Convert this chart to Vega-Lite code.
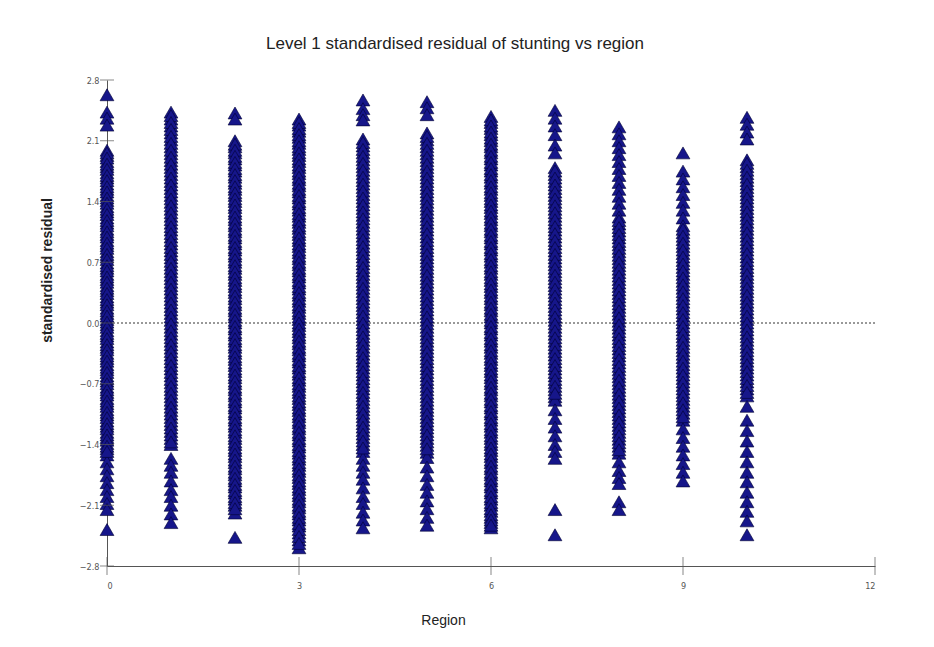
{
  "$schema": "https://vega.github.io/schema/vega-lite/v6.json",
  "width": 768,
  "height": 486,
  "autosize": {"type": "none"},
  "padding": {"left": 107, "top": 80, "right": 59, "bottom": 81},
  "background": "white",
  "title": {
    "text": "Level 1 standardised residual of stunting vs  region",
    "anchor": "middle",
    "frame": "group",
    "dx": -36,
    "offset": 10,
    "baseline": "alphabetic",
    "font": "Liberation Sans",
    "fontSize": 17,
    "fontWeight": "normal",
    "color": "#222222"
  },
  "config": {
    "view": {"stroke": null},
    "font": "Liberation Sans",
    "axis": {
      "ticks": false,
      "grid": false,
      "domainColor": "#555555",
      "labelFont": "'Liberation Sans Narrow', 'DejaVu Sans Condensed', 'Liberation Sans', sans-serif",
      "labelFontSize": 9,
      "labelColor": "#555555",
      "titleFont": "Liberation Sans",
      "titleFontSize": 14,
      "titleFontWeight": "normal",
      "titleColor": "#222222"
    }
  },
  "datasets": {
    "zero": [{"z": 0}],
    "yticks": [{"t": -2.8}, {"t": -2.1}, {"t": -1.4}, {"t": -0.7}, {"t": 0}, {"t": 0.7}, {"t": 1.4}, {"t": 2.1}, {"t": 2.8}],
    "xticks": [{"t": 0}, {"t": 3}, {"t": 6}, {"t": 9}, {"t": 12}],
    "points": [
      {"r":0,"v":2.63},{"r":0,"v":2.43},{"r":0,"v":2.36},{"r":0,"v":2.28},
      {"r":0,"v":1.99},{"r":0,"v":1.93},{"r":0,"v":1.86},{"r":0,"v":1.80},{"r":0,"v":1.73},{"r":0,"v":1.67},{"r":0,"v":1.60},{"r":0,"v":1.54},{"r":0,"v":1.47},{"r":0,"v":1.41},{"r":0,"v":1.34},{"r":0,"v":1.28},{"r":0,"v":1.21},{"r":0,"v":1.15},{"r":0,"v":1.08},{"r":0,"v":1.02},{"r":0,"v":0.95},{"r":0,"v":0.89},{"r":0,"v":0.82},{"r":0,"v":0.76},{"r":0,"v":0.69},{"r":0,"v":0.63},{"r":0,"v":0.56},{"r":0,"v":0.50},{"r":0,"v":0.43},{"r":0,"v":0.37},{"r":0,"v":0.30},{"r":0,"v":0.24},{"r":0,"v":0.17},{"r":0,"v":0.11},{"r":0,"v":0.04},{"r":0,"v":-0.02},{"r":0,"v":-0.09},{"r":0,"v":-0.15},{"r":0,"v":-0.22},{"r":0,"v":-0.28},{"r":0,"v":-0.35},{"r":0,"v":-0.41},{"r":0,"v":-0.48},{"r":0,"v":-0.54},{"r":0,"v":-0.61},{"r":0,"v":-0.67},{"r":0,"v":-0.74},{"r":0,"v":-0.80},{"r":0,"v":-0.87},{"r":0,"v":-0.93},{"r":0,"v":-1.00},{"r":0,"v":-1.06},{"r":0,"v":-1.13},{"r":0,"v":-1.19},{"r":0,"v":-1.26},{"r":0,"v":-1.32},{"r":0,"v":-1.39},{"r":0,"v":-1.45},{"r":0,"v":-1.52},{"r":0,"v":-1.60},{"r":0,"v":-1.68},{"r":0,"v":-1.76},{"r":0,"v":-1.84},{"r":0,"v":-1.92},{"r":0,"v":-2.00},{"r":0,"v":-2.08},{"r":0,"v":-2.15},{"r":0,"v":-2.38},
      {"r":0,"v":1.96},{"r":0,"v":1.90},{"r":0,"v":1.83},{"r":0,"v":1.77},{"r":0,"v":1.70},{"r":0,"v":1.64},{"r":0,"v":1.57},{"r":0,"v":1.51},{"r":0,"v":1.44},{"r":0,"v":1.38},{"r":0,"v":1.31},{"r":0,"v":1.25},{"r":0,"v":1.18},{"r":0,"v":1.12},{"r":0,"v":1.05},{"r":0,"v":0.99},{"r":0,"v":0.92},{"r":0,"v":0.86},{"r":0,"v":0.79},{"r":0,"v":0.73},{"r":0,"v":0.66},{"r":0,"v":0.60},{"r":0,"v":0.53},{"r":0,"v":0.47},{"r":0,"v":0.40},{"r":0,"v":0.34},{"r":0,"v":0.27},{"r":0,"v":0.21},{"r":0,"v":0.14},{"r":0,"v":0.08},{"r":0,"v":0.01},{"r":0,"v":-0.05},{"r":0,"v":-0.12},{"r":0,"v":-0.18},{"r":0,"v":-0.25},{"r":0,"v":-0.31},{"r":0,"v":-0.38},{"r":0,"v":-0.44},{"r":0,"v":-0.51},{"r":0,"v":-0.57},{"r":0,"v":-0.64},{"r":0,"v":-0.70},{"r":0,"v":-0.77},{"r":0,"v":-0.83},{"r":0,"v":-0.90},{"r":0,"v":-0.96},{"r":0,"v":-1.03},{"r":0,"v":-1.09},{"r":0,"v":-1.16},{"r":0,"v":-1.22},{"r":0,"v":-1.29},{"r":0,"v":-1.35},{"r":0,"v":-1.42},{"r":0,"v":-1.48},
      {"r":1,"v":2.43},{"r":1,"v":2.35},{"r":1,"v":2.27},{"r":1,"v":2.19},{"r":1,"v":2.11},{"r":1,"v":2.03},{"r":1,"v":1.95},{"r":1,"v":1.87},{"r":1,"v":1.79},{"r":1,"v":1.71},{"r":1,"v":1.63},{"r":1,"v":1.55},{"r":1,"v":1.47},{"r":1,"v":1.39},{"r":1,"v":1.31},{"r":1,"v":1.23},{"r":1,"v":1.15},{"r":1,"v":1.07},{"r":1,"v":0.99},{"r":1,"v":0.91},{"r":1,"v":0.83},{"r":1,"v":0.75},{"r":1,"v":0.67},{"r":1,"v":0.59},{"r":1,"v":0.51},{"r":1,"v":0.43},{"r":1,"v":0.35},{"r":1,"v":0.27},{"r":1,"v":0.19},{"r":1,"v":0.11},{"r":1,"v":0.03},{"r":1,"v":-0.05},{"r":1,"v":-0.13},{"r":1,"v":-0.21},{"r":1,"v":-0.29},{"r":1,"v":-0.37},{"r":1,"v":-0.45},{"r":1,"v":-0.53},{"r":1,"v":-0.61},{"r":1,"v":-0.69},{"r":1,"v":-0.77},{"r":1,"v":-0.85},{"r":1,"v":-0.93},{"r":1,"v":-1.01},{"r":1,"v":-1.09},{"r":1,"v":-1.17},{"r":1,"v":-1.25},{"r":1,"v":-1.33},{"r":1,"v":-1.40},{"r":1,"v":-1.56},{"r":1,"v":-1.64},{"r":1,"v":-1.72},{"r":1,"v":-1.82},{"r":1,"v":-1.92},{"r":1,"v":-2.00},{"r":1,"v":-2.10},{"r":1,"v":-2.20},{"r":1,"v":-2.30},
      {"r":1,"v":2.39},{"r":1,"v":2.31},{"r":1,"v":2.23},{"r":1,"v":2.15},{"r":1,"v":2.07},{"r":1,"v":1.99},{"r":1,"v":1.91},{"r":1,"v":1.83},{"r":1,"v":1.75},{"r":1,"v":1.67},{"r":1,"v":1.59},{"r":1,"v":1.51},{"r":1,"v":1.43},{"r":1,"v":1.35},{"r":1,"v":1.27},{"r":1,"v":1.19},{"r":1,"v":1.11},{"r":1,"v":1.03},{"r":1,"v":0.95},{"r":1,"v":0.87},{"r":1,"v":0.79},{"r":1,"v":0.71},{"r":1,"v":0.63},{"r":1,"v":0.55},{"r":1,"v":0.47},{"r":1,"v":0.39},{"r":1,"v":0.31},{"r":1,"v":0.23},{"r":1,"v":0.15},{"r":1,"v":0.07},{"r":1,"v":-0.01},{"r":1,"v":-0.09},{"r":1,"v":-0.17},{"r":1,"v":-0.25},{"r":1,"v":-0.33},{"r":1,"v":-0.41},{"r":1,"v":-0.49},{"r":1,"v":-0.57},{"r":1,"v":-0.65},{"r":1,"v":-0.73},{"r":1,"v":-0.81},{"r":1,"v":-0.89},{"r":1,"v":-0.97},{"r":1,"v":-1.05},{"r":1,"v":-1.13},{"r":1,"v":-1.21},{"r":1,"v":-1.29},{"r":1,"v":-1.37},
      {"r":2,"v":2.42},{"r":2,"v":2.35},
      {"r":2,"v":2.10},{"r":2,"v":2.03},{"r":2,"v":1.96},{"r":2,"v":1.89},{"r":2,"v":1.82},{"r":2,"v":1.75},{"r":2,"v":1.68},{"r":2,"v":1.61},{"r":2,"v":1.54},{"r":2,"v":1.47},{"r":2,"v":1.40},{"r":2,"v":1.33},{"r":2,"v":1.26},{"r":2,"v":1.19},{"r":2,"v":1.12},{"r":2,"v":1.05},{"r":2,"v":0.98},{"r":2,"v":0.91},{"r":2,"v":0.84},{"r":2,"v":0.77},{"r":2,"v":0.70},{"r":2,"v":0.63},{"r":2,"v":0.56},{"r":2,"v":0.49},{"r":2,"v":0.42},{"r":2,"v":0.35},{"r":2,"v":0.28},{"r":2,"v":0.21},{"r":2,"v":0.14},{"r":2,"v":0.07},{"r":2,"v":0.00},{"r":2,"v":-0.07},{"r":2,"v":-0.14},{"r":2,"v":-0.21},{"r":2,"v":-0.28},{"r":2,"v":-0.35},{"r":2,"v":-0.42},{"r":2,"v":-0.49},{"r":2,"v":-0.56},{"r":2,"v":-0.63},{"r":2,"v":-0.70},{"r":2,"v":-0.77},{"r":2,"v":-0.84},{"r":2,"v":-0.91},{"r":2,"v":-0.98},{"r":2,"v":-1.05},{"r":2,"v":-1.12},{"r":2,"v":-1.19},{"r":2,"v":-1.26},{"r":2,"v":-1.33},{"r":2,"v":-1.40},{"r":2,"v":-1.47},{"r":2,"v":-1.54},{"r":2,"v":-1.61},{"r":2,"v":-1.68},{"r":2,"v":-1.75},{"r":2,"v":-1.82},{"r":2,"v":-1.89},{"r":2,"v":-1.96},{"r":2,"v":-2.03},{"r":2,"v":-2.10},{"r":2,"v":-2.19},{"r":2,"v":-2.47},
      {"r":2,"v":2.06},{"r":2,"v":1.99},{"r":2,"v":1.92},{"r":2,"v":1.85},{"r":2,"v":1.78},{"r":2,"v":1.71},{"r":2,"v":1.64},{"r":2,"v":1.57},{"r":2,"v":1.50},{"r":2,"v":1.43},{"r":2,"v":1.36},{"r":2,"v":1.29},{"r":2,"v":1.22},{"r":2,"v":1.15},{"r":2,"v":1.08},{"r":2,"v":1.01},{"r":2,"v":0.94},{"r":2,"v":0.87},{"r":2,"v":0.80},{"r":2,"v":0.73},{"r":2,"v":0.66},{"r":2,"v":0.59},{"r":2,"v":0.52},{"r":2,"v":0.45},{"r":2,"v":0.38},{"r":2,"v":0.31},{"r":2,"v":0.24},{"r":2,"v":0.17},{"r":2,"v":0.10},{"r":2,"v":0.03},{"r":2,"v":-0.04},{"r":2,"v":-0.11},{"r":2,"v":-0.18},{"r":2,"v":-0.25},{"r":2,"v":-0.32},{"r":2,"v":-0.39},{"r":2,"v":-0.46},{"r":2,"v":-0.53},{"r":2,"v":-0.60},{"r":2,"v":-0.67},{"r":2,"v":-0.74},{"r":2,"v":-0.81},{"r":2,"v":-0.88},{"r":2,"v":-0.95},{"r":2,"v":-1.02},{"r":2,"v":-1.09},{"r":2,"v":-1.16},{"r":2,"v":-1.23},{"r":2,"v":-1.30},{"r":2,"v":-1.37},{"r":2,"v":-1.44},{"r":2,"v":-1.51},{"r":2,"v":-1.58},{"r":2,"v":-1.65},{"r":2,"v":-1.72},{"r":2,"v":-1.79},{"r":2,"v":-1.86},{"r":2,"v":-1.93},{"r":2,"v":-2.00},{"r":2,"v":-2.07},{"r":2,"v":-2.14},
      {"r":3,"v":2.35},{"r":3,"v":2.28},{"r":3,"v":2.21},{"r":3,"v":2.14},{"r":3,"v":2.07},{"r":3,"v":2.00},{"r":3,"v":1.93},{"r":3,"v":1.86},{"r":3,"v":1.79},{"r":3,"v":1.72},{"r":3,"v":1.65},{"r":3,"v":1.58},{"r":3,"v":1.51},{"r":3,"v":1.44},{"r":3,"v":1.37},{"r":3,"v":1.30},{"r":3,"v":1.23},{"r":3,"v":1.16},{"r":3,"v":1.09},{"r":3,"v":1.02},{"r":3,"v":0.95},{"r":3,"v":0.88},{"r":3,"v":0.81},{"r":3,"v":0.74},{"r":3,"v":0.67},{"r":3,"v":0.60},{"r":3,"v":0.53},{"r":3,"v":0.46},{"r":3,"v":0.39},{"r":3,"v":0.32},{"r":3,"v":0.25},{"r":3,"v":0.18},{"r":3,"v":0.11},{"r":3,"v":0.04},{"r":3,"v":-0.03},{"r":3,"v":-0.10},{"r":3,"v":-0.17},{"r":3,"v":-0.24},{"r":3,"v":-0.31},{"r":3,"v":-0.38},{"r":3,"v":-0.45},{"r":3,"v":-0.52},{"r":3,"v":-0.59},{"r":3,"v":-0.66},{"r":3,"v":-0.73},{"r":3,"v":-0.80},{"r":3,"v":-0.87},{"r":3,"v":-0.94},{"r":3,"v":-1.01},{"r":3,"v":-1.08},{"r":3,"v":-1.15},{"r":3,"v":-1.22},{"r":3,"v":-1.29},{"r":3,"v":-1.36},{"r":3,"v":-1.43},{"r":3,"v":-1.50},{"r":3,"v":-1.57},{"r":3,"v":-1.64},{"r":3,"v":-1.71},{"r":3,"v":-1.78},{"r":3,"v":-1.85},{"r":3,"v":-1.92},{"r":3,"v":-1.99},{"r":3,"v":-2.06},{"r":3,"v":-2.13},{"r":3,"v":-2.20},{"r":3,"v":-2.27},{"r":3,"v":-2.34},{"r":3,"v":-2.42},{"r":3,"v":-2.50},{"r":3,"v":-2.59},
      {"r":3,"v":2.31},{"r":3,"v":2.24},{"r":3,"v":2.17},{"r":3,"v":2.10},{"r":3,"v":2.03},{"r":3,"v":1.96},{"r":3,"v":1.89},{"r":3,"v":1.82},{"r":3,"v":1.75},{"r":3,"v":1.68},{"r":3,"v":1.61},{"r":3,"v":1.54},{"r":3,"v":1.47},{"r":3,"v":1.40},{"r":3,"v":1.33},{"r":3,"v":1.26},{"r":3,"v":1.19},{"r":3,"v":1.12},{"r":3,"v":1.05},{"r":3,"v":0.98},{"r":3,"v":0.91},{"r":3,"v":0.84},{"r":3,"v":0.77},{"r":3,"v":0.70},{"r":3,"v":0.63},{"r":3,"v":0.56},{"r":3,"v":0.49},{"r":3,"v":0.42},{"r":3,"v":0.35},{"r":3,"v":0.28},{"r":3,"v":0.21},{"r":3,"v":0.14},{"r":3,"v":0.07},{"r":3,"v":0.00},{"r":3,"v":-0.07},{"r":3,"v":-0.14},{"r":3,"v":-0.21},{"r":3,"v":-0.28},{"r":3,"v":-0.35},{"r":3,"v":-0.42},{"r":3,"v":-0.49},{"r":3,"v":-0.56},{"r":3,"v":-0.63},{"r":3,"v":-0.70},{"r":3,"v":-0.77},{"r":3,"v":-0.84},{"r":3,"v":-0.91},{"r":3,"v":-0.98},{"r":3,"v":-1.05},{"r":3,"v":-1.12},{"r":3,"v":-1.19},{"r":3,"v":-1.26},{"r":3,"v":-1.33},{"r":3,"v":-1.40},{"r":3,"v":-1.47},{"r":3,"v":-1.54},{"r":3,"v":-1.61},{"r":3,"v":-1.68},{"r":3,"v":-1.75},{"r":3,"v":-1.82},{"r":3,"v":-1.89},{"r":3,"v":-1.96},{"r":3,"v":-2.03},{"r":3,"v":-2.10},{"r":3,"v":-2.17},{"r":3,"v":-2.24},{"r":3,"v":-2.31},{"r":3,"v":-2.38},{"r":3,"v":-2.46},{"r":3,"v":-2.54},
      {"r":4,"v":2.57},{"r":4,"v":2.47},{"r":4,"v":2.40},{"r":4,"v":2.34},
      {"r":4,"v":2.12},{"r":4,"v":2.04},{"r":4,"v":1.96},{"r":4,"v":1.88},{"r":4,"v":1.80},{"r":4,"v":1.72},{"r":4,"v":1.64},{"r":4,"v":1.56},{"r":4,"v":1.48},{"r":4,"v":1.40},{"r":4,"v":1.32},{"r":4,"v":1.24},{"r":4,"v":1.16},{"r":4,"v":1.08},{"r":4,"v":1.00},{"r":4,"v":0.92},{"r":4,"v":0.84},{"r":4,"v":0.76},{"r":4,"v":0.68},{"r":4,"v":0.60},{"r":4,"v":0.52},{"r":4,"v":0.44},{"r":4,"v":0.36},{"r":4,"v":0.28},{"r":4,"v":0.20},{"r":4,"v":0.12},{"r":4,"v":0.04},{"r":4,"v":-0.04},{"r":4,"v":-0.12},{"r":4,"v":-0.20},{"r":4,"v":-0.28},{"r":4,"v":-0.36},{"r":4,"v":-0.44},{"r":4,"v":-0.52},{"r":4,"v":-0.60},{"r":4,"v":-0.68},{"r":4,"v":-0.76},{"r":4,"v":-0.84},{"r":4,"v":-0.92},{"r":4,"v":-1.00},{"r":4,"v":-1.08},{"r":4,"v":-1.16},{"r":4,"v":-1.24},{"r":4,"v":-1.32},{"r":4,"v":-1.40},{"r":4,"v":-1.48},{"r":4,"v":-1.56},{"r":4,"v":-1.64},{"r":4,"v":-1.72},{"r":4,"v":-1.80},{"r":4,"v":-1.90},{"r":4,"v":-2.00},{"r":4,"v":-2.08},{"r":4,"v":-2.18},{"r":4,"v":-2.27},{"r":4,"v":-2.36},
      {"r":4,"v":2.08},{"r":4,"v":2.00},{"r":4,"v":1.92},{"r":4,"v":1.84},{"r":4,"v":1.76},{"r":4,"v":1.68},{"r":4,"v":1.60},{"r":4,"v":1.52},{"r":4,"v":1.44},{"r":4,"v":1.36},{"r":4,"v":1.28},{"r":4,"v":1.20},{"r":4,"v":1.12},{"r":4,"v":1.04},{"r":4,"v":0.96},{"r":4,"v":0.88},{"r":4,"v":0.80},{"r":4,"v":0.72},{"r":4,"v":0.64},{"r":4,"v":0.56},{"r":4,"v":0.48},{"r":4,"v":0.40},{"r":4,"v":0.32},{"r":4,"v":0.24},{"r":4,"v":0.16},{"r":4,"v":0.08},{"r":4,"v":0.00},{"r":4,"v":-0.08},{"r":4,"v":-0.16},{"r":4,"v":-0.24},{"r":4,"v":-0.32},{"r":4,"v":-0.40},{"r":4,"v":-0.48},{"r":4,"v":-0.56},{"r":4,"v":-0.64},{"r":4,"v":-0.72},{"r":4,"v":-0.80},{"r":4,"v":-0.88},{"r":4,"v":-0.96},{"r":4,"v":-1.04},{"r":4,"v":-1.12},{"r":4,"v":-1.20},{"r":4,"v":-1.28},{"r":4,"v":-1.36},{"r":4,"v":-1.44},
      {"r":5,"v":2.55},{"r":5,"v":2.48},{"r":5,"v":2.40},
      {"r":5,"v":2.19},{"r":5,"v":2.11},{"r":5,"v":2.03},{"r":5,"v":1.95},{"r":5,"v":1.87},{"r":5,"v":1.79},{"r":5,"v":1.71},{"r":5,"v":1.63},{"r":5,"v":1.55},{"r":5,"v":1.47},{"r":5,"v":1.39},{"r":5,"v":1.31},{"r":5,"v":1.23},{"r":5,"v":1.15},{"r":5,"v":1.07},{"r":5,"v":0.99},{"r":5,"v":0.91},{"r":5,"v":0.83},{"r":5,"v":0.75},{"r":5,"v":0.67},{"r":5,"v":0.59},{"r":5,"v":0.51},{"r":5,"v":0.43},{"r":5,"v":0.35},{"r":5,"v":0.27},{"r":5,"v":0.19},{"r":5,"v":0.11},{"r":5,"v":0.03},{"r":5,"v":-0.05},{"r":5,"v":-0.13},{"r":5,"v":-0.21},{"r":5,"v":-0.29},{"r":5,"v":-0.37},{"r":5,"v":-0.45},{"r":5,"v":-0.53},{"r":5,"v":-0.61},{"r":5,"v":-0.69},{"r":5,"v":-0.77},{"r":5,"v":-0.85},{"r":5,"v":-0.93},{"r":5,"v":-1.01},{"r":5,"v":-1.09},{"r":5,"v":-1.17},{"r":5,"v":-1.25},{"r":5,"v":-1.33},{"r":5,"v":-1.41},{"r":5,"v":-1.49},{"r":5,"v":-1.55},{"r":5,"v":-1.66},{"r":5,"v":-1.76},{"r":5,"v":-1.86},{"r":5,"v":-1.95},{"r":5,"v":-2.05},{"r":5,"v":-2.14},{"r":5,"v":-2.24},{"r":5,"v":-2.33},
      {"r":5,"v":2.15},{"r":5,"v":2.07},{"r":5,"v":1.99},{"r":5,"v":1.91},{"r":5,"v":1.83},{"r":5,"v":1.75},{"r":5,"v":1.67},{"r":5,"v":1.59},{"r":5,"v":1.51},{"r":5,"v":1.43},{"r":5,"v":1.35},{"r":5,"v":1.27},{"r":5,"v":1.19},{"r":5,"v":1.11},{"r":5,"v":1.03},{"r":5,"v":0.95},{"r":5,"v":0.87},{"r":5,"v":0.79},{"r":5,"v":0.71},{"r":5,"v":0.63},{"r":5,"v":0.55},{"r":5,"v":0.47},{"r":5,"v":0.39},{"r":5,"v":0.31},{"r":5,"v":0.23},{"r":5,"v":0.15},{"r":5,"v":0.07},{"r":5,"v":-0.01},{"r":5,"v":-0.09},{"r":5,"v":-0.17},{"r":5,"v":-0.25},{"r":5,"v":-0.33},{"r":5,"v":-0.41},{"r":5,"v":-0.49},{"r":5,"v":-0.57},{"r":5,"v":-0.65},{"r":5,"v":-0.73},{"r":5,"v":-0.81},{"r":5,"v":-0.89},{"r":5,"v":-0.97},{"r":5,"v":-1.05},{"r":5,"v":-1.13},{"r":5,"v":-1.21},{"r":5,"v":-1.29},{"r":5,"v":-1.37},{"r":5,"v":-1.45},
      {"r":6,"v":2.38},{"r":6,"v":2.31},{"r":6,"v":2.24},{"r":6,"v":2.17},{"r":6,"v":2.10},{"r":6,"v":2.03},{"r":6,"v":1.96},{"r":6,"v":1.89},{"r":6,"v":1.82},{"r":6,"v":1.75},{"r":6,"v":1.68},{"r":6,"v":1.61},{"r":6,"v":1.54},{"r":6,"v":1.47},{"r":6,"v":1.40},{"r":6,"v":1.33},{"r":6,"v":1.26},{"r":6,"v":1.19},{"r":6,"v":1.12},{"r":6,"v":1.05},{"r":6,"v":0.98},{"r":6,"v":0.91},{"r":6,"v":0.84},{"r":6,"v":0.77},{"r":6,"v":0.70},{"r":6,"v":0.63},{"r":6,"v":0.56},{"r":6,"v":0.49},{"r":6,"v":0.42},{"r":6,"v":0.35},{"r":6,"v":0.28},{"r":6,"v":0.21},{"r":6,"v":0.14},{"r":6,"v":0.07},{"r":6,"v":0.00},{"r":6,"v":-0.07},{"r":6,"v":-0.14},{"r":6,"v":-0.21},{"r":6,"v":-0.28},{"r":6,"v":-0.35},{"r":6,"v":-0.42},{"r":6,"v":-0.49},{"r":6,"v":-0.56},{"r":6,"v":-0.63},{"r":6,"v":-0.70},{"r":6,"v":-0.77},{"r":6,"v":-0.84},{"r":6,"v":-0.91},{"r":6,"v":-0.98},{"r":6,"v":-1.05},{"r":6,"v":-1.12},{"r":6,"v":-1.19},{"r":6,"v":-1.26},{"r":6,"v":-1.33},{"r":6,"v":-1.40},{"r":6,"v":-1.47},{"r":6,"v":-1.54},{"r":6,"v":-1.61},{"r":6,"v":-1.68},{"r":6,"v":-1.75},{"r":6,"v":-1.82},{"r":6,"v":-1.89},{"r":6,"v":-1.96},{"r":6,"v":-2.03},{"r":6,"v":-2.10},{"r":6,"v":-2.17},{"r":6,"v":-2.24},{"r":6,"v":-2.30},{"r":6,"v":-2.36},
      {"r":6,"v":2.34},{"r":6,"v":2.27},{"r":6,"v":2.20},{"r":6,"v":2.13},{"r":6,"v":2.06},{"r":6,"v":1.99},{"r":6,"v":1.92},{"r":6,"v":1.85},{"r":6,"v":1.78},{"r":6,"v":1.71},{"r":6,"v":1.64},{"r":6,"v":1.57},{"r":6,"v":1.50},{"r":6,"v":1.43},{"r":6,"v":1.36},{"r":6,"v":1.29},{"r":6,"v":1.22},{"r":6,"v":1.15},{"r":6,"v":1.08},{"r":6,"v":1.01},{"r":6,"v":0.94},{"r":6,"v":0.87},{"r":6,"v":0.80},{"r":6,"v":0.73},{"r":6,"v":0.66},{"r":6,"v":0.59},{"r":6,"v":0.52},{"r":6,"v":0.45},{"r":6,"v":0.38},{"r":6,"v":0.31},{"r":6,"v":0.24},{"r":6,"v":0.17},{"r":6,"v":0.10},{"r":6,"v":0.03},{"r":6,"v":-0.04},{"r":6,"v":-0.11},{"r":6,"v":-0.18},{"r":6,"v":-0.25},{"r":6,"v":-0.32},{"r":6,"v":-0.39},{"r":6,"v":-0.46},{"r":6,"v":-0.53},{"r":6,"v":-0.60},{"r":6,"v":-0.67},{"r":6,"v":-0.74},{"r":6,"v":-0.81},{"r":6,"v":-0.88},{"r":6,"v":-0.95},{"r":6,"v":-1.02},{"r":6,"v":-1.09},{"r":6,"v":-1.16},{"r":6,"v":-1.23},{"r":6,"v":-1.30},{"r":6,"v":-1.37},{"r":6,"v":-1.44},{"r":6,"v":-1.51},{"r":6,"v":-1.58},{"r":6,"v":-1.65},{"r":6,"v":-1.72},{"r":6,"v":-1.79},{"r":6,"v":-1.86},{"r":6,"v":-1.93},{"r":6,"v":-2.00},{"r":6,"v":-2.07},{"r":6,"v":-2.14},{"r":6,"v":-2.21},{"r":6,"v":-2.27},{"r":6,"v":-2.33},
      {"r":7,"v":2.45},{"r":7,"v":2.36},{"r":7,"v":2.27},{"r":7,"v":2.17},{"r":7,"v":2.05},{"r":7,"v":1.96},
      {"r":7,"v":1.79},{"r":7,"v":1.71},{"r":7,"v":1.63},{"r":7,"v":1.55},{"r":7,"v":1.47},{"r":7,"v":1.39},{"r":7,"v":1.31},{"r":7,"v":1.23},{"r":7,"v":1.15},{"r":7,"v":1.07},{"r":7,"v":0.99},{"r":7,"v":0.91},{"r":7,"v":0.83},{"r":7,"v":0.75},{"r":7,"v":0.67},{"r":7,"v":0.59},{"r":7,"v":0.51},{"r":7,"v":0.43},{"r":7,"v":0.35},{"r":7,"v":0.27},{"r":7,"v":0.19},{"r":7,"v":0.11},{"r":7,"v":0.03},{"r":7,"v":-0.05},{"r":7,"v":-0.13},{"r":7,"v":-0.21},{"r":7,"v":-0.29},{"r":7,"v":-0.37},{"r":7,"v":-0.45},{"r":7,"v":-0.53},{"r":7,"v":-0.61},{"r":7,"v":-0.69},{"r":7,"v":-0.77},{"r":7,"v":-0.85},{"r":7,"v":-0.89},{"r":7,"v":-1.00},{"r":7,"v":-1.10},{"r":7,"v":-1.20},{"r":7,"v":-1.30},{"r":7,"v":-1.40},{"r":7,"v":-1.48},{"r":7,"v":-1.56},{"r":7,"v":-2.15},{"r":7,"v":-2.44},
      {"r":7,"v":1.75},{"r":7,"v":1.67},{"r":7,"v":1.59},{"r":7,"v":1.51},{"r":7,"v":1.43},{"r":7,"v":1.35},{"r":7,"v":1.27},{"r":7,"v":1.19},{"r":7,"v":1.11},{"r":7,"v":1.03},{"r":7,"v":0.95},{"r":7,"v":0.87},{"r":7,"v":0.79},{"r":7,"v":0.71},{"r":7,"v":0.63},{"r":7,"v":0.55},{"r":7,"v":0.47},{"r":7,"v":0.39},{"r":7,"v":0.31},{"r":7,"v":0.23},{"r":7,"v":0.15},{"r":7,"v":0.07},{"r":7,"v":-0.01},{"r":7,"v":-0.09},{"r":7,"v":-0.17},{"r":7,"v":-0.25},{"r":7,"v":-0.33},{"r":7,"v":-0.41},{"r":7,"v":-0.49},{"r":7,"v":-0.57},{"r":7,"v":-0.65},{"r":7,"v":-0.73},{"r":7,"v":-0.81},
      {"r":8,"v":2.26},{"r":8,"v":2.18},{"r":8,"v":2.10},{"r":8,"v":2.02},{"r":8,"v":1.94},{"r":8,"v":1.86},{"r":8,"v":1.78},{"r":8,"v":1.70},{"r":8,"v":1.62},{"r":8,"v":1.54},{"r":8,"v":1.46},{"r":8,"v":1.38},{"r":8,"v":1.30},{"r":8,"v":1.22},{"r":8,"v":1.14},{"r":8,"v":1.06},{"r":8,"v":0.98},{"r":8,"v":0.90},{"r":8,"v":0.82},{"r":8,"v":0.74},{"r":8,"v":0.66},{"r":8,"v":0.58},{"r":8,"v":0.50},{"r":8,"v":0.42},{"r":8,"v":0.34},{"r":8,"v":0.26},{"r":8,"v":0.18},{"r":8,"v":0.10},{"r":8,"v":0.02},{"r":8,"v":-0.06},{"r":8,"v":-0.14},{"r":8,"v":-0.22},{"r":8,"v":-0.30},{"r":8,"v":-0.38},{"r":8,"v":-0.46},{"r":8,"v":-0.54},{"r":8,"v":-0.62},{"r":8,"v":-0.70},{"r":8,"v":-0.78},{"r":8,"v":-0.86},{"r":8,"v":-0.94},{"r":8,"v":-1.02},{"r":8,"v":-1.10},{"r":8,"v":-1.18},{"r":8,"v":-1.26},{"r":8,"v":-1.34},{"r":8,"v":-1.42},{"r":8,"v":-1.50},{"r":8,"v":-1.60},{"r":8,"v":-1.70},{"r":8,"v":-1.78},{"r":8,"v":-1.85},{"r":8,"v":-2.06},{"r":8,"v":-2.15},
      {"r":8,"v":1.18},{"r":8,"v":1.10},{"r":8,"v":1.02},{"r":8,"v":0.94},{"r":8,"v":0.86},{"r":8,"v":0.78},{"r":8,"v":0.70},{"r":8,"v":0.62},{"r":8,"v":0.54},{"r":8,"v":0.46},{"r":8,"v":0.38},{"r":8,"v":0.30},{"r":8,"v":0.22},{"r":8,"v":0.14},{"r":8,"v":0.06},{"r":8,"v":-0.02},{"r":8,"v":-0.10},{"r":8,"v":-0.18},{"r":8,"v":-0.26},{"r":8,"v":-0.34},{"r":8,"v":-0.42},{"r":8,"v":-0.50},{"r":8,"v":-0.58},{"r":8,"v":-0.66},{"r":8,"v":-0.74},{"r":8,"v":-0.82},{"r":8,"v":-0.90},{"r":8,"v":-0.98},{"r":8,"v":-1.06},{"r":8,"v":-1.14},{"r":8,"v":-1.22},{"r":8,"v":-1.30},{"r":8,"v":-1.38},{"r":8,"v":-1.46},
      {"r":9,"v":1.96},{"r":9,"v":1.75},{"r":9,"v":1.66},{"r":9,"v":1.57},{"r":9,"v":1.48},{"r":9,"v":1.39},{"r":9,"v":1.30},{"r":9,"v":1.21},{"r":9,"v":1.12},{"r":9,"v":1.04},{"r":9,"v":0.96},{"r":9,"v":0.88},{"r":9,"v":0.80},{"r":9,"v":0.72},{"r":9,"v":0.64},{"r":9,"v":0.56},{"r":9,"v":0.48},{"r":9,"v":0.40},{"r":9,"v":0.32},{"r":9,"v":0.24},{"r":9,"v":0.16},{"r":9,"v":0.08},{"r":9,"v":0.00},{"r":9,"v":-0.08},{"r":9,"v":-0.16},{"r":9,"v":-0.24},{"r":9,"v":-0.32},{"r":9,"v":-0.40},{"r":9,"v":-0.48},{"r":9,"v":-0.56},{"r":9,"v":-0.64},{"r":9,"v":-0.72},{"r":9,"v":-0.80},{"r":9,"v":-0.88},{"r":9,"v":-0.96},{"r":9,"v":-1.04},{"r":9,"v":-1.12},{"r":9,"v":-1.22},{"r":9,"v":-1.32},{"r":9,"v":-1.42},{"r":9,"v":-1.52},{"r":9,"v":-1.62},{"r":9,"v":-1.72},{"r":9,"v":-1.82},
      {"r":9,"v":1.08},{"r":9,"v":1.00},{"r":9,"v":0.92},{"r":9,"v":0.84},{"r":9,"v":0.76},{"r":9,"v":0.68},{"r":9,"v":0.60},{"r":9,"v":0.52},{"r":9,"v":0.44},{"r":9,"v":0.36},{"r":9,"v":0.28},{"r":9,"v":0.20},{"r":9,"v":0.12},{"r":9,"v":0.04},{"r":9,"v":-0.04},{"r":9,"v":-0.12},{"r":9,"v":-0.20},{"r":9,"v":-0.28},{"r":9,"v":-0.36},{"r":9,"v":-0.44},{"r":9,"v":-0.52},{"r":9,"v":-0.60},{"r":9,"v":-0.68},{"r":9,"v":-0.76},{"r":9,"v":-0.84},{"r":9,"v":-0.92},{"r":9,"v":-1.00},{"r":9,"v":-1.08},
      {"r":10,"v":2.37},{"r":10,"v":2.29},{"r":10,"v":2.20},{"r":10,"v":2.12},
      {"r":10,"v":1.88},{"r":10,"v":1.80},{"r":10,"v":1.72},{"r":10,"v":1.64},{"r":10,"v":1.56},{"r":10,"v":1.48},{"r":10,"v":1.40},{"r":10,"v":1.32},{"r":10,"v":1.24},{"r":10,"v":1.16},{"r":10,"v":1.08},{"r":10,"v":1.00},{"r":10,"v":0.92},{"r":10,"v":0.84},{"r":10,"v":0.76},{"r":10,"v":0.68},{"r":10,"v":0.60},{"r":10,"v":0.52},{"r":10,"v":0.44},{"r":10,"v":0.36},{"r":10,"v":0.28},{"r":10,"v":0.20},{"r":10,"v":0.12},{"r":10,"v":0.04},{"r":10,"v":-0.04},{"r":10,"v":-0.12},{"r":10,"v":-0.20},{"r":10,"v":-0.28},{"r":10,"v":-0.36},{"r":10,"v":-0.44},{"r":10,"v":-0.52},{"r":10,"v":-0.60},{"r":10,"v":-0.68},{"r":10,"v":-0.76},{"r":10,"v":-0.84},{"r":10,"v":-0.96},{"r":10,"v":-1.12},{"r":10,"v":-1.24},{"r":10,"v":-1.36},{"r":10,"v":-1.48},{"r":10,"v":-1.60},{"r":10,"v":-1.72},{"r":10,"v":-1.83},{"r":10,"v":-1.95},{"r":10,"v":-2.06},{"r":10,"v":-2.17},{"r":10,"v":-2.28},{"r":10,"v":-2.44},
      {"r":10,"v":1.84},{"r":10,"v":1.76},{"r":10,"v":1.68},{"r":10,"v":1.60},{"r":10,"v":1.52},{"r":10,"v":1.44},{"r":10,"v":1.36},{"r":10,"v":1.28},{"r":10,"v":1.20},{"r":10,"v":1.12},{"r":10,"v":1.04},{"r":10,"v":0.96},{"r":10,"v":0.88},{"r":10,"v":0.80},{"r":10,"v":0.72},{"r":10,"v":0.64},{"r":10,"v":0.56},{"r":10,"v":0.48},{"r":10,"v":0.40},{"r":10,"v":0.32},{"r":10,"v":0.24},{"r":10,"v":0.16},{"r":10,"v":0.08},{"r":10,"v":0.00},{"r":10,"v":-0.08},{"r":10,"v":-0.16},{"r":10,"v":-0.24},{"r":10,"v":-0.32},{"r":10,"v":-0.40},{"r":10,"v":-0.48},{"r":10,"v":-0.56},{"r":10,"v":-0.64},{"r":10,"v":-0.72},{"r":10,"v":-0.80}
    ]
  },
  "layer": [
    {
      "data": {"name": "zero"},
      "mark": {"type": "rule", "color": "#333333", "strokeDash": [2, 2], "strokeWidth": 1},
      "encoding": {
        "y": {"field": "z", "type": "quantitative", "title": "standardised residual", "scale": {"domain": [-2.8, 2.8], "nice": false, "zero": false}}
      }
    },
    {
      "data": {"name": "points"},
      "mark": {"type": "point", "shape": "triangle-up", "size": 190, "filled": true, "fill": "#16168a", "stroke": "#000033", "strokeWidth": 0.6, "opacity": 1},
      "encoding": {
        "x": {"field": "r", "type": "quantitative", "title": "Region",
              "scale": {"domain": [0, 12], "nice": false, "zero": false},
              "axis": {"values": [0, 3, 6, 9, 12], "format": "d", "labelPadding": 15, "titleX": 336, "titleY": 54, "titleAlign": "center", "titleBaseline": "middle"}},
        "y": {"field": "v", "type": "quantitative", "title": "standardised residual",
              "scale": {"domain": [-2.8, 2.8], "nice": false, "zero": false},
              "axis": {"values": [-2.8, -2.1, -1.4, -0.7, 0, 0.7, 1.4, 2.1, 2.8], "format": ".1f", "labelPadding": 8, "titleX": -60, "titleY": 190, "titleAngle": -90, "titleAlign": "center", "titleBaseline": "middle", "titleFontWeight": "bold"}}
      }
    },
    {
      "data": {"name": "yticks"},
      "mark": {"type": "tick", "orient": "horizontal", "size": 14, "thickness": 1, "color": "#555555"},
      "encoding": {
        "x": {"datum": 0, "type": "quantitative", "scale": {"domain": [0, 12], "nice": false, "zero": false}},
        "y": {"field": "t", "type": "quantitative", "title": "standardised residual", "scale": {"domain": [-2.8, 2.8], "nice": false, "zero": false}}
      }
    },
    {
      "data": {"name": "xticks"},
      "mark": {"type": "tick", "orient": "vertical", "size": 18, "thickness": 1, "color": "#555555"},
      "encoding": {
        "x": {"field": "t", "type": "quantitative", "title": "Region", "scale": {"domain": [0, 12], "nice": false, "zero": false}},
        "y": {"datum": -2.8, "type": "quantitative", "scale": {"domain": [-2.8, 2.8], "nice": false, "zero": false}}
      }
    }
  ]
}
